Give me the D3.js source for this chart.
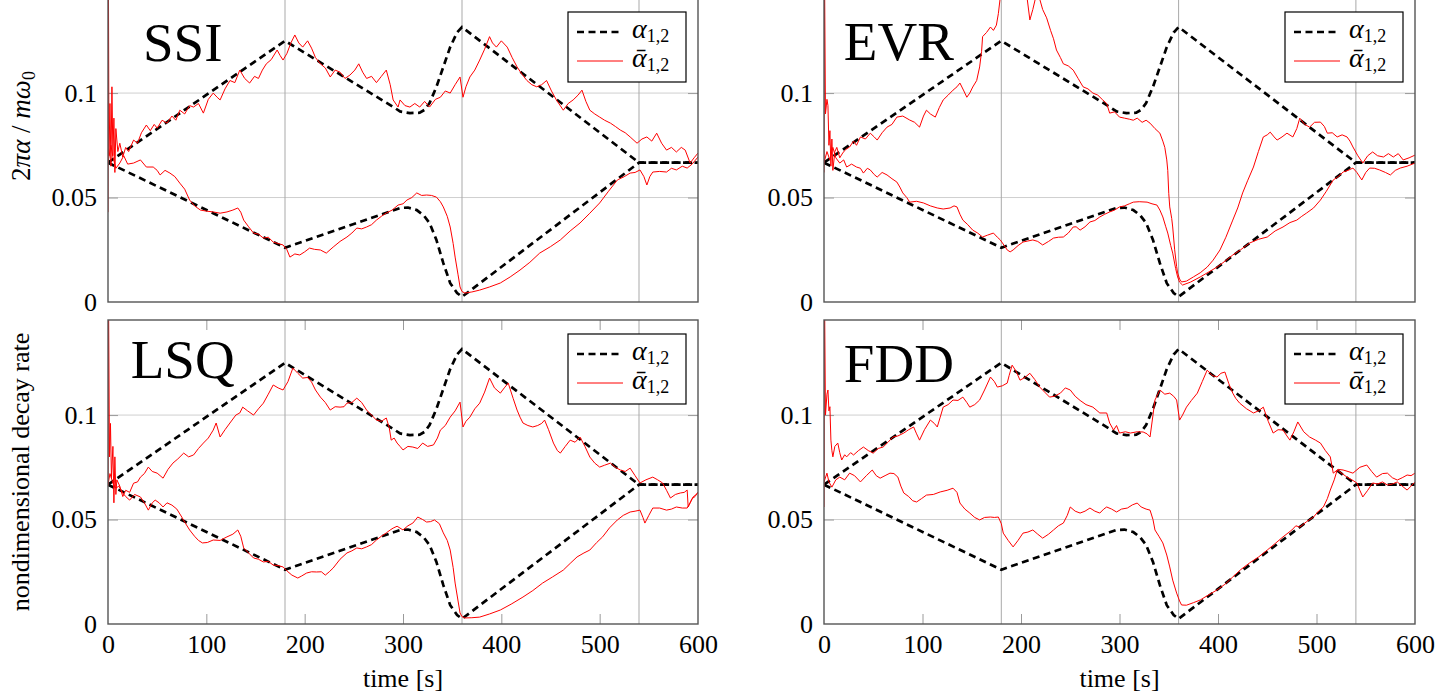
<!DOCTYPE html>
<html>
<head>
<meta charset="utf-8">
<script src="https://cdn.jsdelivr.net/npm/d3@7"></script>
<style>
  body { margin: 0; background: #fff; }
  svg text { font-family: "Liberation Serif", "DejaVu Serif", serif !important; fill: #000; }
</style>
</head>
<body>
<div id="chart"></div>
<script>
// ---- data (time [s], nondimensional decay rate) ----
const methods = ["SSI", "EVR", "LSQ", "FDD"];
const timeTicks = [0, 100, 200, 300, 400, 500, 600];
const timeGrid = [180, 360, 540];
const rateTicks = [0, 0.05, 0.1];
const rateTickLabels = ["0", "0.05", "0.1"];

// exact decay rates alpha_1 and alpha_2 (dashed)
const trueUpper = [[0,0.0667],[180,0.125],[290,0.0934],[297,0.0912],[307,0.0904],[317,0.0906],[322,0.092],[327,0.0952],[334,0.103],[341,0.1125],[348,0.122],[355,0.129],[360,0.1316],[540,0.0667],[600,0.0667]];
const trueLower = [[0,0.0667],[180,0.026],[297,0.045],[305,0.0452],[314,0.044],[321,0.0415],[327,0.0378],[334,0.0297],[341,0.0186],[348,0.009],[355,0.0043],[360,0.0025],[540,0.0667],[600,0.0667]];

// estimated decay rates, one pair per identification method
const ssiUpper = [[0,0.043],[0.4,0.16],[1,0.07],[2,0.095],[3,0.065],[4,0.103],[5,0.07],[6,0.088],[7,0.062],[8,0.083],[10,0.072],[12,0.076],[15,0.0694],[18,0.074],[21,0.072],[26,0.0775],[30,0.076],[34,0.081],[39,0.0847],[43,0.082],[47,0.085],[50,0.0832],[55,0.087],[60,0.0856],[65,0.089],[69,0.087],[73,0.0918],[78,0.090],[83,0.094],[87,0.0933],[92,0.095],[97,0.0904],[102,0.097],[107,0.100],[111,0.098],[114,0.0967],[119,0.102],[124,0.106],[129,0.105],[134,0.111],[139,0.107],[144,0.1048],[149,0.108],[153,0.107],[157,0.111],[161,0.114],[166,0.116],[172,0.1206],[175,0.118],[178,0.1158],[182,0.119],[186,0.124],[190,0.1278],[194,0.124],[198,0.122],[203,0.125],[207,0.1215],[211,0.117],[216,0.114],[221,0.112],[226,0.1077],[231,0.111],[236,0.110],[241,0.107],[246,0.1086],[251,0.111],[255,0.114],[259,0.110],[263,0.107],[268,0.108],[273,0.105],[278,0.108],[283,0.111],[287,0.104],[290,0.0967],[295,0.0933],[297,0.0967],[302,0.094],[307,0.0933],[312,0.095],[317,0.0933],[322,0.096],[327,0.0933],[333,0.097],[338,0.098],[343,0.101],[348,0.100],[353,0.104],[358,0.1077],[361,0.098],[364,0.103],[368,0.1077],[373,0.111],[378,0.1158],[383,0.121],[388,0.127],[391,0.124],[395,0.122],[400,0.125],[406,0.122],[411,0.117],[416,0.1125],[421,0.109],[426,0.106],[431,0.104],[436,0.103],[441,0.104],[446,0.106],[451,0.101],[456,0.0967],[463,0.0918],[468,0.095],[473,0.0967],[478,0.099],[482,0.1014],[486,0.096],[490,0.0918],[495,0.090],[500,0.0885],[505,0.087],[511,0.0856],[516,0.084],[521,0.0823],[526,0.081],[531,0.079],[538,0.076],[543,0.078],[548,0.079],[553,0.077],[558,0.0808],[563,0.076],[568,0.0727],[573,0.074],[578,0.0718],[583,0.074],[587,0.0727],[592,0.0665],[596,0.069],[600,0.0713]];
const ssiLower = [[0,0.0667],[3,0.075],[5,0.0694],[8,0.064],[12,0.0665],[16,0.070],[20,0.066],[26,0.0665],[33,0.068],[39,0.0646],[46,0.0646],[50,0.063],[53,0.0608],[58,0.063],[63,0.0617],[68,0.060],[73,0.0569],[78,0.054],[83,0.0488],[88,0.046],[94,0.044],[100,0.0435],[107,0.0431],[114,0.0425],[121,0.0431],[127,0.044],[132,0.045],[135,0.043],[138,0.0392],[143,0.036],[148,0.033],[153,0.0325],[158,0.0306],[163,0.031],[168,0.0287],[173,0.028],[178,0.0273],[182,0.025],[185,0.0215],[190,0.023],[195,0.0225],[200,0.024],[205,0.0258],[210,0.0252],[216,0.0249],[222,0.0234],[229,0.0263],[236,0.029],[243,0.0311],[248,0.033],[253,0.0354],[258,0.035],[263,0.0359],[268,0.037],[273,0.0392],[278,0.041],[283,0.0426],[289,0.044],[295,0.0464],[300,0.047],[304,0.0488],[309,0.050],[314,0.0522],[319,0.051],[324,0.0512],[329,0.051],[334,0.0502],[338,0.048],[341,0.0455],[345,0.041],[348,0.0359],[351,0.028],[353,0.0215],[356,0.013],[358,0.0072],[360,0.005],[363,0.0043],[370,0.0048],[378,0.0057],[388,0.0072],[399,0.0091],[409,0.012],[419,0.0153],[429,0.019],[439,0.0234],[450,0.0265],[460,0.0297],[470,0.034],[480,0.0378],[490,0.0425],[500,0.0474],[509,0.053],[518,0.0584],[525,0.060],[531,0.0617],[536,0.062],[541,0.0632],[545,0.060],[548,0.056],[551,0.060],[554,0.0622],[561,0.0625],[568,0.0622],[573,0.064],[578,0.0632],[584,0.065],[589,0.0641],[594,0.066],[600,0.0694]];

const evrUpper = [[0,0.062],[0.5,0.16],[1.5,0.09],[3,0.097],[4,0.094],[5,0.075],[6,0.082],[7,0.065],[8,0.078],[9,0.063],[11,0.072],[13,0.074],[16,0.069],[19,0.0713],[22,0.073],[26,0.0742],[30,0.077],[33,0.075],[37,0.079],[42,0.078],[47,0.0808],[51,0.079],[54,0.0775],[59,0.081],[64,0.0837],[69,0.085],[74,0.0885],[80,0.089],[87,0.0871],[92,0.086],[97,0.0837],[101,0.089],[104,0.0918],[108,0.090],[113,0.0885],[117,0.093],[121,0.0967],[126,0.099],[131,0.1014],[135,0.103],[138,0.1048],[142,0.101],[145,0.098],[148,0.100],[151,0.1029],[155,0.106],[158,0.1125],[160,0.120],[161,0.127],[165,0.129],[169,0.1316],[172,0.130],[175,0.1325],[177,0.138],[179,0.146],[185,0.155],[195,0.158],[205,0.15],[209,0.135],[212,0.14],[216,0.148],[219,0.145],[222,0.14],[226,0.136],[230,0.130],[233,0.126],[236,0.1206],[240,0.117],[243,0.114],[248,0.113],[253,0.111],[258,0.107],[263,0.103],[268,0.102],[273,0.100],[278,0.099],[283,0.0967],[287,0.095],[290,0.0904],[295,0.091],[300,0.0885],[305,0.088],[310,0.0875],[314,0.087],[318,0.088],[323,0.086],[327,0.087],[331,0.0856],[336,0.083],[341,0.0808],[344,0.077],[346,0.074],[348,0.068],[349,0.063],[350,0.052],[351,0.0455],[353,0.040],[354,0.0359],[356,0.025],[358,0.017],[359,0.0139],[361,0.011],[363,0.0096],[368,0.010],[375,0.012],[382,0.014],[389,0.0167],[395,0.020],[402,0.0249],[408,0.031],[415,0.0392],[420,0.045],[425,0.0522],[430,0.058],[436,0.0646],[441,0.072],[446,0.079],[450,0.080],[453,0.0813],[457,0.079],[460,0.0775],[465,0.079],[470,0.0808],[476,0.079],[480,0.083],[483,0.088],[488,0.085],[493,0.0837],[498,0.086],[504,0.0861],[508,0.084],[511,0.0808],[516,0.081],[521,0.079],[526,0.080],[531,0.079],[534,0.077],[537,0.0742],[542,0.070],[547,0.0665],[552,0.070],[557,0.0718],[562,0.070],[568,0.0694],[573,0.071],[578,0.0694],[583,0.071],[588,0.068],[594,0.069],[600,0.0703]];
const evrLower = [[0,0.0667],[3,0.072],[6,0.068],[9,0.074],[12,0.069],[16,0.0665],[20,0.068],[23,0.0646],[28,0.066],[33,0.0646],[37,0.064],[40,0.0617],[44,0.064],[47,0.0632],[51,0.061],[54,0.0598],[59,0.062],[64,0.0608],[69,0.059],[74,0.0574],[77,0.055],[80,0.0522],[84,0.050],[87,0.0478],[94,0.0482],[101,0.0474],[108,0.046],[115,0.045],[121,0.0445],[128,0.045],[132,0.046],[135,0.0455],[138,0.042],[141,0.0392],[146,0.037],[151,0.0344],[156,0.033],[161,0.0311],[166,0.032],[172,0.033],[176,0.031],[179,0.0297],[183,0.027],[186,0.0249],[189,0.024],[192,0.0249],[197,0.027],[202,0.0287],[207,0.0292],[212,0.0297],[217,0.029],[222,0.0273],[228,0.029],[233,0.0306],[238,0.031],[243,0.0311],[248,0.033],[253,0.0359],[256,0.036],[260,0.0344],[265,0.036],[270,0.0383],[275,0.039],[280,0.0407],[285,0.042],[290,0.0431],[295,0.044],[300,0.0455],[305,0.046],[310,0.047],[314,0.0478],[320,0.048],[328,0.0478],[333,0.047],[338,0.0464],[341,0.044],[344,0.0407],[347,0.036],[349,0.033],[352,0.027],[354,0.0234],[357,0.016],[359,0.012],[361,0.0095],[364,0.0081],[372,0.0095],[382,0.012],[390,0.0142],[399,0.0167],[407,0.0195],[415,0.0225],[423,0.025],[432,0.0282],[441,0.030],[450,0.0311],[458,0.034],[466,0.0359],[473,0.038],[480,0.0392],[485,0.041],[490,0.0426],[497,0.045],[504,0.0488],[510,0.053],[517,0.0584],[522,0.060],[527,0.0622],[532,0.063],[537,0.0641],[541,0.062],[546,0.0584],[550,0.062],[554,0.0641],[559,0.064],[564,0.0632],[570,0.062],[575,0.0608],[580,0.063],[585,0.0641],[592,0.065],[600,0.0665]];

const lsqUpper = [[0,0.066],[0.5,0.16],[1.5,0.08],[2.5,0.096],[3.5,0.07],[5,0.085],[6,0.058],[7,0.08],[8,0.062],[9,0.069],[12,0.066],[15,0.061],[18,0.064],[22,0.063],[26,0.0674],[30,0.068],[33,0.0703],[37,0.072],[41,0.0751],[45,0.073],[50,0.0722],[53,0.071],[56,0.0698],[61,0.074],[66,0.077],[71,0.079],[77,0.0818],[82,0.080],[87,0.0809],[92,0.084],[97,0.0866],[102,0.089],[107,0.0928],[110,0.0962],[114,0.0895],[119,0.093],[124,0.0962],[130,0.100],[134,0.101],[137,0.1038],[142,0.102],[148,0.100],[153,0.103],[158,0.1057],[163,0.110],[168,0.1144],[173,0.113],[178,0.112],[183,0.116],[188,0.1225],[193,0.120],[198,0.1177],[203,0.118],[207,0.1158],[211,0.112],[216,0.1086],[221,0.106],[226,0.1024],[231,0.104],[236,0.1038],[240,0.104],[243,0.1057],[248,0.106],[253,0.1081],[258,0.106],[263,0.1024],[268,0.100],[273,0.0976],[278,0.097],[283,0.0986],[286,0.094],[288,0.088],[291,0.089],[294,0.0866],[297,0.085],[300,0.0833],[305,0.085],[310,0.0847],[315,0.084],[320,0.0866],[325,0.085],[331,0.0857],[335,0.089],[338,0.0928],[343,0.095],[348,0.0990],[353,0.102],[358,0.1062],[361,0.0943],[364,0.097],[368,0.099],[373,0.103],[378,0.1057],[383,0.111],[388,0.1177],[393,0.113],[399,0.1105],[403,0.113],[407,0.1153],[412,0.108],[416,0.1024],[419,0.099],[422,0.0962],[427,0.095],[432,0.0943],[437,0.095],[441,0.096],[444,0.0976],[448,0.093],[453,0.0866],[457,0.083],[460,0.0818],[465,0.085],[470,0.088],[475,0.087],[480,0.0895],[485,0.085],[490,0.0799],[495,0.077],[500,0.0751],[505,0.076],[511,0.077],[516,0.075],[521,0.0737],[526,0.073],[531,0.0746],[536,0.071],[541,0.0675],[547,0.069],[554,0.0703],[559,0.069],[564,0.0675],[568,0.064],[572,0.0603],[577,0.062],[582,0.0627],[586,0.063],[589,0.0641],[590,0.056],[594,0.060],[597,0.061],[600,0.0632]];
const lsqLower = [[0,0.0667],[2,0.072],[5,0.0674],[8,0.065],[11,0.066],[15,0.0627],[18,0.061],[22,0.0593],[27,0.062],[33,0.0608],[37,0.058],[41,0.0545],[45,0.058],[48,0.0593],[52,0.058],[56,0.056],[60,0.058],[65,0.0569],[70,0.055],[75,0.0512],[79,0.048],[83,0.045],[88,0.042],[92,0.040],[96,0.0388],[101,0.039],[107,0.0402],[114,0.040],[121,0.0417],[127,0.043],[132,0.045],[135,0.042],[138,0.0364],[143,0.034],[148,0.0316],[153,0.031],[158,0.0297],[163,0.030],[168,0.0282],[173,0.028],[178,0.0273],[183,0.025],[187,0.0234],[193,0.022],[197,0.023],[202,0.0244],[207,0.025],[212,0.0249],[217,0.025],[221,0.0234],[225,0.025],[229,0.0268],[236,0.031],[243,0.034],[248,0.035],[253,0.0364],[258,0.036],[263,0.0369],[268,0.038],[273,0.0402],[278,0.042],[283,0.0436],[287,0.045],[290,0.0459],[294,0.0468],[300,0.045],[305,0.047],[310,0.0483],[315,0.0512],[320,0.050],[324,0.0488],[328,0.049],[332,0.0498],[337,0.048],[341,0.0436],[345,0.040],[348,0.0354],[351,0.027],[353,0.0196],[356,0.011],[358,0.0053],[360,0.0035],[363,0.0029],[370,0.003],[378,0.0033],[388,0.0048],[399,0.0067],[410,0.0095],[422,0.0129],[432,0.016],[442,0.0196],[452,0.0225],[463,0.0258],[470,0.029],[477,0.0321],[484,0.034],[490,0.0354],[497,0.039],[503,0.0417],[510,0.046],[518,0.0498],[524,0.052],[531,0.0536],[536,0.054],[541,0.0545],[544,0.051],[546,0.0483],[550,0.052],[554,0.0555],[561,0.0555],[568,0.0545],[573,0.055],[578,0.056],[584,0.0555],[589,0.0555],[592,0.058],[595,0.0608],[600,0.0627]];

const fddUpper = [[0,0.056],[0.5,0.16],[1.5,0.1],[3,0.11],[4,0.112],[5,0.102],[6,0.104],[7,0.088],[8,0.083],[9,0.08],[11,0.085],[14,0.0866],[16,0.082],[18,0.0785],[21,0.081],[23,0.080],[27,0.082],[30,0.0809],[35,0.083],[40,0.0847],[45,0.083],[50,0.0818],[55,0.084],[60,0.0847],[65,0.087],[70,0.0895],[75,0.090],[81,0.0914],[86,0.093],[91,0.0943],[94,0.091],[97,0.088],[102,0.093],[108,0.0976],[112,0.096],[115,0.0943],[118,0.099],[121,0.1038],[126,0.105],[131,0.1072],[136,0.107],[141,0.1086],[145,0.106],[148,0.1038],[153,0.105],[158,0.1072],[163,0.112],[169,0.1182],[173,0.116],[176,0.1134],[181,0.114],[186,0.1153],[188,0.119],[191,0.1239],[195,0.121],[199,0.1167],[204,0.118],[209,0.120],[214,0.117],[219,0.1134],[224,0.111],[229,0.1086],[234,0.109],[240,0.1105],[245,0.113],[250,0.112],[255,0.109],[260,0.107],[266,0.105],[273,0.1038],[280,0.101],[287,0.101],[290,0.0962],[294,0.0928],[297,0.095],[300,0.0914],[306,0.092],[311,0.0914],[318,0.092],[324,0.0919],[328,0.091],[331,0.0895],[334,0.100],[336,0.1072],[341,0.112],[346,0.110],[351,0.1105],[355,0.109],[358,0.1072],[361,0.0976],[364,0.100],[368,0.1038],[373,0.107],[379,0.1105],[384,0.116],[389,0.1215],[394,0.119],[399,0.1182],[403,0.12],[407,0.1206],[411,0.115],[415,0.1105],[418,0.108],[422,0.1057],[429,0.103],[436,0.101],[441,0.102],[446,0.1038],[451,0.097],[456,0.0914],[461,0.093],[466,0.0928],[470,0.09],[473,0.088],[477,0.092],[481,0.0967],[487,0.092],[493,0.0895],[499,0.088],[504,0.0866],[509,0.083],[514,0.080],[517,0.0722],[522,0.074],[527,0.0737],[532,0.073],[537,0.0722],[544,0.075],[551,0.0761],[556,0.073],[561,0.0703],[567,0.072],[572,0.0722],[577,0.07],[582,0.0689],[587,0.07],[592,0.0713],[596,0.071],[600,0.0722]];
const fddLower = [[0,0.068],[3,0.0722],[5,0.068],[8,0.0655],[12,0.069],[16,0.0703],[21,0.069],[26,0.0722],[31,0.071],[37,0.068],[43,0.071],[49,0.0737],[53,0.071],[57,0.0698],[62,0.071],[67,0.0722],[71,0.072],[75,0.0703],[78,0.066],[81,0.0627],[86,0.061],[90,0.059],[94,0.0584],[99,0.060],[104,0.0617],[111,0.062],[118,0.0632],[125,0.064],[131,0.065],[135,0.063],[138,0.0579],[143,0.055],[148,0.0531],[153,0.051],[158,0.0498],[163,0.051],[169,0.0512],[173,0.051],[177,0.0512],[180,0.048],[182,0.0435],[187,0.040],[192,0.0369],[197,0.040],[202,0.0435],[207,0.044],[212,0.045],[217,0.043],[222,0.0411],[228,0.043],[233,0.045],[238,0.047],[243,0.0483],[247,0.052],[250,0.056],[255,0.054],[260,0.0531],[265,0.054],[270,0.0555],[275,0.054],[280,0.0531],[284,0.055],[287,0.056],[292,0.055],[297,0.0536],[302,0.055],[308,0.0555],[313,0.057],[318,0.0579],[322,0.056],[327,0.055],[331,0.0545],[334,0.05],[336,0.045],[340,0.042],[344,0.0388],[348,0.033],[351,0.0273],[354,0.021],[358,0.0148],[361,0.011],[363,0.0091],[368,0.009],[375,0.0102],[382,0.0115],[390,0.0138],[399,0.0163],[407,0.019],[415,0.0225],[423,0.026],[432,0.0292],[441,0.032],[450,0.0354],[458,0.0385],[466,0.0417],[475,0.045],[479,0.047],[483,0.0464],[490,0.049],[497,0.0512],[502,0.054],[507,0.056],[511,0.060],[514,0.0641],[518,0.069],[521,0.0737],[526,0.072],[531,0.0703],[536,0.069],[541,0.0675],[544,0.064],[547,0.0608],[552,0.064],[557,0.0675],[562,0.067],[567,0.068],[572,0.0665],[577,0.067],[582,0.068],[587,0.066],[592,0.0641],[596,0.066],[600,0.068]];

const estimates = {
  SSI: [ssiUpper, ssiLower],
  EVR: [evrUpper, evrLower],
  LSQ: [lsqUpper, lsqLower],
  FDD: [fddUpper, fddLower]
};

// ---- layout ----
const serif = '"Liberation Serif", "DejaVu Serif", serif';
const cols = [{x0: 108, x1: 698}, {x0: 824, x1: 1415}];
const rows = [{y0: -2, y1: 302}, {y0: 320, y1: 624}];
const titlePos = {SSI: 61, EVR: 60, LSQ: 378, FDD: 382};

const svg = d3.select("#chart")
  .append("svg")
    .attr("width", 1456)
    .attr("height", 698)
    .style("background", "#fff")
    .style("font-family", serif);

const line = (x, y) => d3.line().x(d => x(d[0])).y(d => y(d[1]));

methods.forEach((name, i) => {
  const c = cols[i % 2], r = rows[Math.floor(i / 2)];
  const isBottom = i >= 2;

  const x = d3.scaleLinear().domain([0, 600]).range([c.x0, c.x1]);
  const y = d3.scaleLinear().domain([0, 0.1455]).range([r.y1, r.y0]);

  const g = svg.append("g");
  const clipId = "clip" + i;
  g.append("clipPath").attr("id", clipId)
    .append("rect")
      .attr("x", c.x0).attr("y", r.y0)
      .attr("width", c.x1 - c.x0).attr("height", r.y1 - r.y0);

  // grid
  g.append("g").selectAll("line")
    .data(rateTicks.slice(1))
    .join("line")
      .attr("x1", c.x0).attr("x2", c.x1)
      .attr("y1", d => y(d)).attr("y2", d => y(d))
      .attr("stroke", "#cfcfcf").attr("stroke-width", 1);
  g.append("g").selectAll("line")
    .data(timeGrid)
    .join("line")
      .attr("x1", d => x(d)).attr("x2", d => x(d))
      .attr("y1", r.y0).attr("y2", r.y1)
      .attr("stroke", "#a9a9a9").attr("stroke-width", 1);

  // inner ticks
  const tickStyle = sel => {
    sel.attr("font-family", null).style("font-family", serif);
    sel.select(".domain").remove();
    sel.selectAll(".tick line").attr("stroke", "#9a9a9a");
    sel.selectAll(".tick text")
      .attr("font-size", 26).attr("fill", "#000")
      .style("font-family", serif);
  };
  if (isBottom) {
    g.append("g")
      .attr("transform", `translate(0, ${r.y0})`)
      .call(d3.axisTop(x).tickValues(timeTicks.slice(1, -1)).tickSize(-10).tickFormat(""))
      .call(tickStyle);
    const xa = g.append("g")
      .attr("transform", `translate(0, ${r.y1})`)
      .call(d3.axisBottom(x).tickValues(timeTicks).tickSize(-10).tickPadding(11).tickFormat(d3.format("d")))
      .call(tickStyle);
    xa.selectAll(".tick line").filter(d => d === 0 || d === 600).remove();
  }
  const ya = g.append("g")
    .attr("transform", `translate(${c.x0}, 0)`)
    .call(d3.axisLeft(y).tickValues(rateTicks).tickSize(-10).tickPadding(11)
      .tickFormat((d, k) => rateTickLabels[k]))
    .call(tickStyle);
  ya.selectAll(".tick line").filter(d => d === 0).remove();
  g.append("g")
    .attr("transform", `translate(${c.x1}, 0)`)
    .call(d3.axisRight(y).tickValues(rateTicks.slice(1)).tickSize(-10).tickFormat(""))
    .call(tickStyle);

  // curves
  const plot = g.append("g").attr("clip-path", `url(#${clipId})`);
  [trueUpper, trueLower].forEach(s => {
    plot.append("path")
      .datum(s)
      .attr("fill", "none")
      .attr("stroke", "#000")
      .attr("stroke-width", 2.7)
      .attr("stroke-dasharray", "7,4.5")
      .attr("d", line(x, y));
  });
  estimates[name].forEach(s => {
    plot.append("path")
      .datum(s)
      .attr("fill", "none")
      .attr("stroke", "#ff0000")
      .attr("stroke-width", 1)
      .attr("stroke-linejoin", "round")
      .attr("d", line(x, y));
  });

  // frame
  g.append("rect")
    .attr("x", c.x0).attr("y", r.y0)
    .attr("width", c.x1 - c.x0).attr("height", r.y1 - r.y0)
    .attr("fill", "none").attr("stroke", "#555").attr("stroke-width", 1.4);

  // method name
  g.append("text")
    .attr("x", x(76)).attr("y", titlePos[name])
    .attr("text-anchor", "middle")
    .attr("font-size", 55)
    .style("font-family", serif)
    .text(name);

  // legend
  const lx = c.x1 - 130, ly = r.y0 + 14;
  const lg = g.append("g").attr("transform", `translate(${lx}, ${ly})`);
  lg.append("rect").attr("width", 118).attr("height", 70)
    .attr("fill", "#fff").attr("stroke", "#000").attr("stroke-width", 1.2);
  lg.append("line").attr("x1", 9).attr("x2", 55).attr("y1", 20).attr("y2", 20)
    .attr("stroke", "#000").attr("stroke-width", 2.7).attr("stroke-dasharray", "7,4.5");
  lg.append("line").attr("x1", 9).attr("x2", 55).attr("y1", 49).attr("y2", 49)
    .attr("stroke", "#ff0000").attr("stroke-width", 1);
  const t1 = lg.append("text").attr("x", 64).attr("y", 26).style("font-family", serif);
  t1.append("tspan").attr("font-size", 28).attr("font-style", "italic").text("α");
  t1.append("tspan").attr("font-size", 18).attr("dy", 4).text("1,2");
  const t2 = lg.append("text").attr("x", 64).attr("y", 55).style("font-family", serif);
  t2.append("tspan").attr("font-size", 28).attr("font-style", "italic").text("α\u0304");
  t2.append("tspan").attr("font-size", 18).attr("dy", 4).text("1,2");

  if (isBottom) {
    g.append("text")
      .attr("x", (c.x0 + c.x1) / 2).attr("y", 687)
      .attr("text-anchor", "middle")
      .attr("font-size", 26)
      .style("font-family", serif)
      .text("time [s]");
  }
});

// y-axis labels of the left column
const yl1 = svg.append("text")
  .attr("transform", "translate(30, 126) rotate(-90)")
  .attr("text-anchor", "middle")
  .attr("font-size", 27)
  .style("font-family", serif);
yl1.append("tspan").text("2");
yl1.append("tspan").attr("font-style", "italic").text("πα");
yl1.append("tspan").text(" / ");
yl1.append("tspan").attr("font-style", "italic").text("mω");
yl1.append("tspan").attr("font-size", 18).attr("dy", 5).text("0");

svg.append("text")
  .attr("transform", "translate(29, 472) rotate(-90)")
  .attr("text-anchor", "middle")
  .attr("font-size", 26)
  .style("font-family", serif)
  .text("nondimensional decay rate");
</script>
</body>
</html>
